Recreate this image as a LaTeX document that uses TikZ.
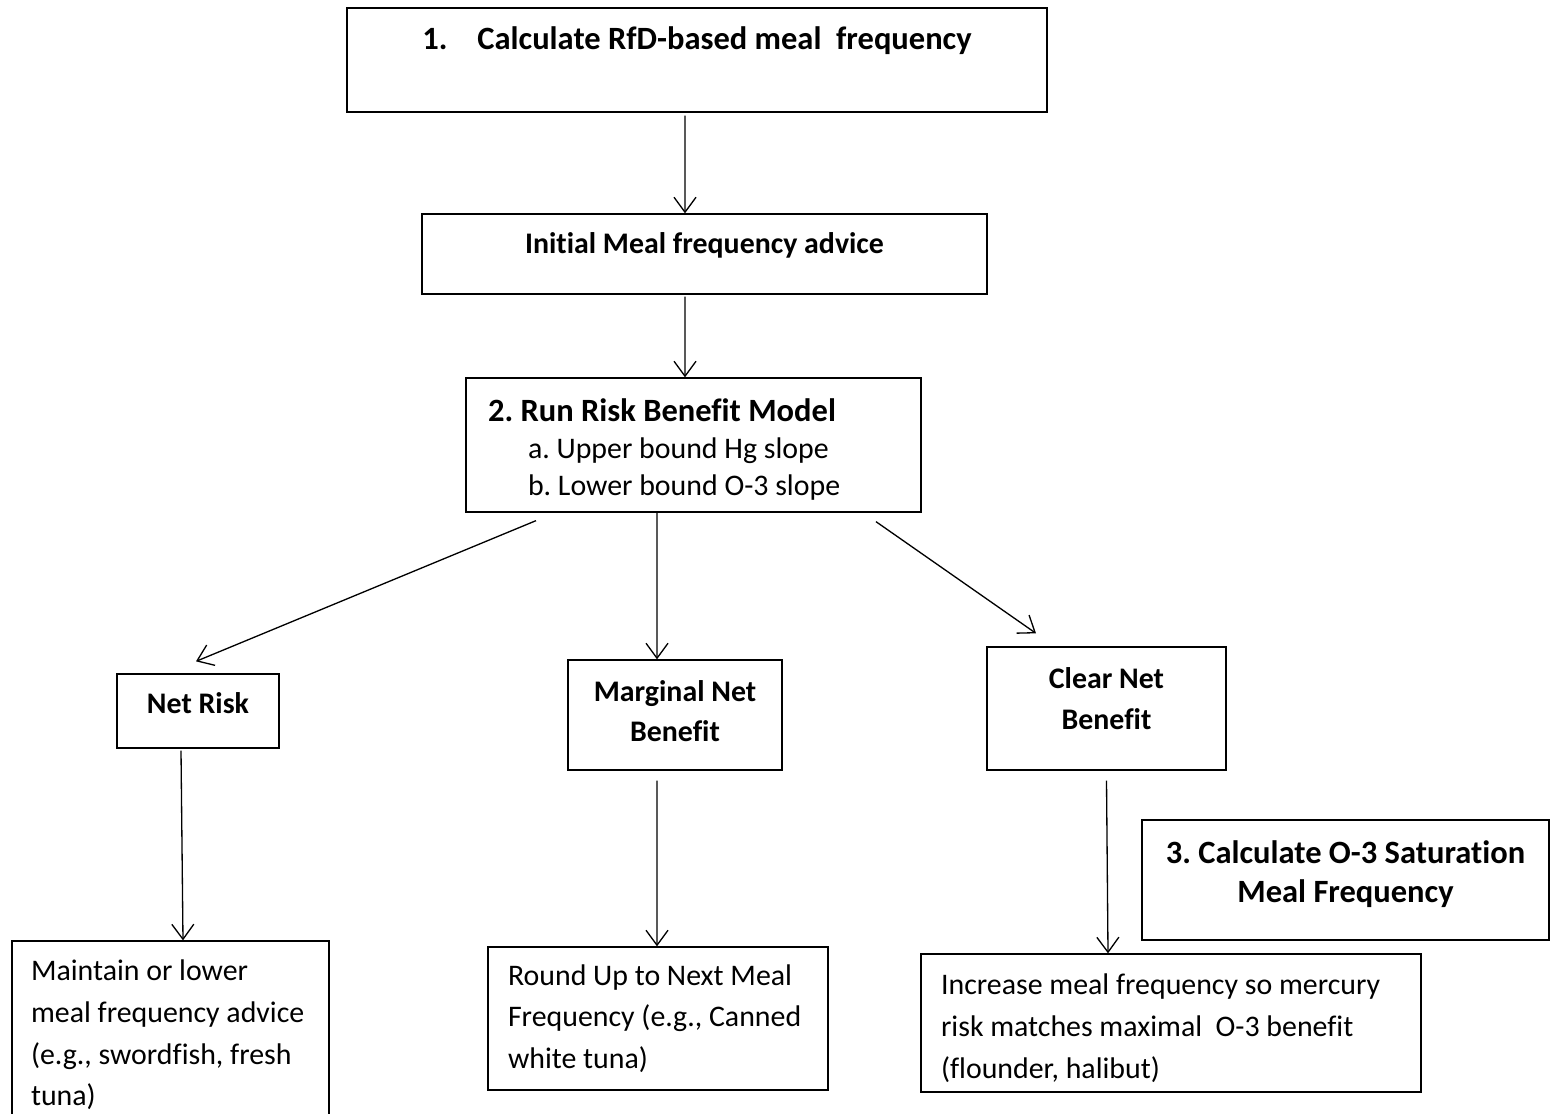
\documentclass[tikz,border=0pt]{standalone}
\usepackage{fontspec}
\setmainfont{Carlito}[Ligatures={NoCommon}]
\usetikzlibrary{arrows.meta, positioning}

\begin{document}
\begin{tikzpicture}[
          x=0.02cm, y=-0.02cm, % one unit = one pixel of the sketch
          every node/.style={rectangle, draw, line width=0.75pt, inner sep=0pt, font=\fontsize{17}{23.7}\selectfont,
            execute at begin node={\frenchspacing\spaceskip=0pt\relax\xspaceskip=0pt\relax\hyphenpenalty=10000\relax}}, % all boxes
          head/.style={font=\fontsize{17}{23}\selectfont\bfseries, align=center}, % bold outcome boxes
          stephead/.style={font=\fontsize{18.5}{22.5}\selectfont\bfseries, align=center}, % numbered steps
          note/.style={align=left, inner xsep=0.4cm}, % advice boxes
          arr/.style={draw, line width=0.75pt, -{Straight Barb[length=3mm,width=4.4mm]}}
        ]
        \clip (0,0) rectangle (1551,1114);
        % steps
        \node[stephead, minimum width=14cm, minimum height=2.08cm] (rfd) at (697,60) {1.\hspace{0.6cm}Calculate RfD-based meal~ frequency\\[-4pt] \strut};
        \node[head, text depth=0.42cm, minimum width=11.3cm, minimum height=1.6cm] (init) at (704.5,254) {Initial Meal frequency advice};
        \node[note, font=\fontsize{17}{21}\selectfont, text width=8.22cm, text height=0.64cm, inner xsep=0.44cm, minimum height=2.68cm] (model) at (693.5,445)
          {{\fontsize{18.5}{21}\selectfont\bfseries 2. Run Risk Benefit Model}\\ \hspace*{0.8cm}a. Upper bound Hg slope\\ \hspace*{0.8cm}b. Lower bound O-3 slope};
        % outcomes
        \node[head, text depth=0.32cm, minimum width=3.24cm, minimum height=1.48cm] (risk) at (198,711) {Net Risk};
        \node[head, text depth=0.16cm, minimum width=4.28cm, minimum height=2.2cm] (marginal) at (675,715) {Marginal Net\\Benefit};
        \node[head, text depth=0.4cm, minimum width=4.78cm, minimum height=2.46cm] (clear) at (1106.5,708.5) {Clear Net\\Benefit};
        \node[stephead, text depth=0.34cm, minimum width=8.14cm, minimum height=2.4cm] (satur) at (1345.5,880) {3. Calculate O-3 Saturation\\Meal Frequency};
        % advice
        \node[note, text width=5.58cm, inner xsep=0.38cm, minimum height=3.76cm] (maintain) at (170.5,1035) {Maintain or lower\\meal frequency advice\\(e.g., swordfish, fresh\\tuna)};
        \node[note, text width=6cm, minimum height=2.86cm] (roundup) at (658,1018.5) {Round Up to Next Meal\\Frequency (e.g., Canned\\white tuna)};
        \node[note, text width=9.2cm, text height=0.62cm, minimum height=2.76cm] (increase) at (1171,1023) {Increase meal frequency so mercury\\risk matches maximal~ O-3 benefit\\(flounder, halibut)};
        % connectors
        \draw[arr] ([xshift=-0.24cm, yshift=-0.06cm]rfd.south) -- ([xshift=-0.39cm]init.north);
        \draw[arr] ([xshift=-0.39cm, yshift=-0.04cm]init.south) -- ([xshift=-0.17cm]model.north);
        \draw[arr] ([xshift=-3.15cm, yshift=-0.16cm]model.south) -- ([xshift=-0.04cm, yshift=0.24cm]risk.north);
        \draw[arr] ([xshift=-0.73cm]model.south) -- ([xshift=-0.36cm]marginal.north);
        \draw[arr] ([xshift=3.65cm, yshift=-0.18cm]model.south) -- ([xshift=-1.41cm, yshift=0.26cm]clear.north);
        \draw[arr] ([xshift=-0.34cm, yshift=-0.04cm]risk.south) -- ([xshift=0.25cm]maintain.north);
        \draw[arr] ([xshift=-0.36cm, yshift=-0.2cm]marginal.south) -- ([xshift=-0.02cm]roundup.north);
        \draw[arr] ([yshift=-0.2cm]clear.south) -- ([xshift=-1.26cm]increase.north);
\end{tikzpicture}
\end{document}
